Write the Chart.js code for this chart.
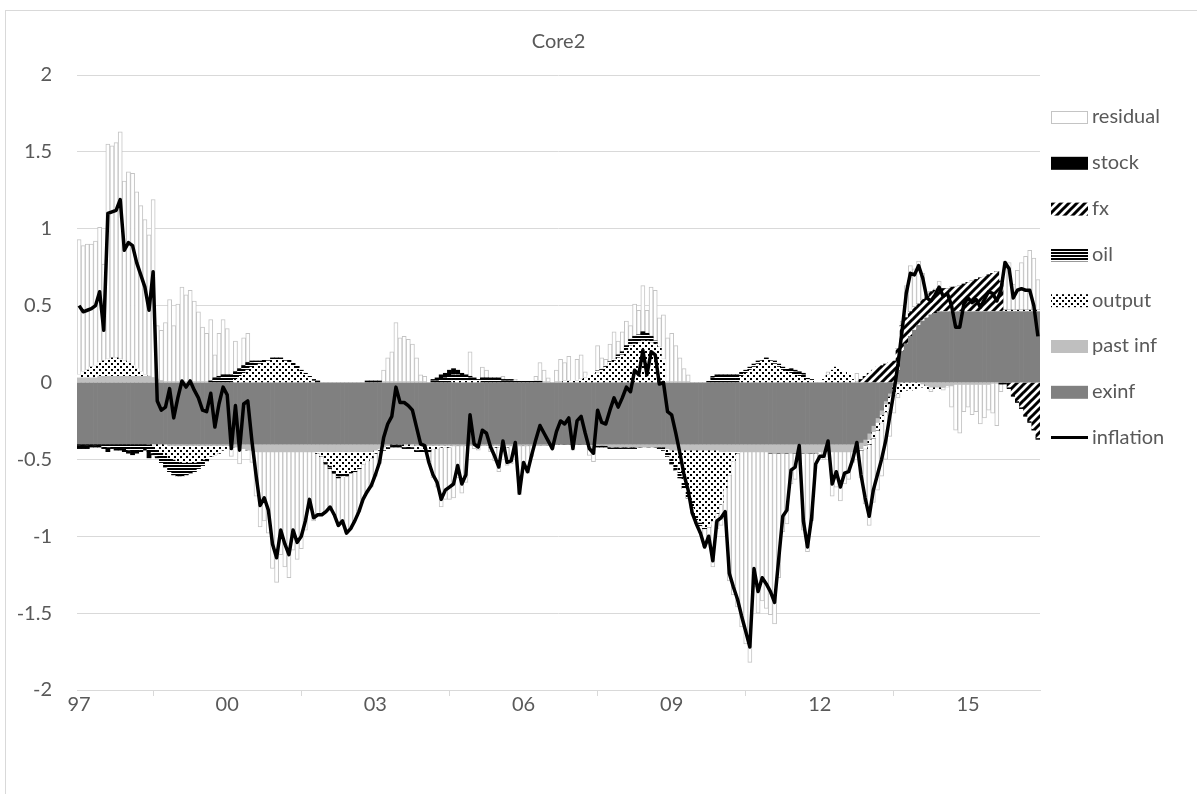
<!DOCTYPE html>
<html>
<head>
<meta charset="utf-8">
<script src="https://cdn.jsdelivr.net/npm/chart.js@4.4.1/dist/chart.umd.min.js"></script>
<style>
  html, body { margin: 0; padding: 0; background: #fff; }
  #wrap { position: relative; width: 1197px; height: 794px; overflow: hidden; }
  #frame { position: absolute; left: 5px; top: 10px; width: 1400px; height: 1000px; border: 1px solid #d9d9d9; box-sizing: border-box; }
  #c { position: absolute; left: 0; top: 0; }
</style>
</head>
<body>
<div id="wrap"><div id="frame"></div><canvas id="c" width="1197" height="794"></canvas></div>
<script>
const titleText = 'Core2';
const years = ['97','98','99','00','01','02','03','04','05','06','07','08','09','10','11','12','13','14','15','16'];
const tickLabels = ['97','00','03','06','09','12','15'];
const N = 234;
const categories = [];
for (const y of years) { for (let m = 1; m <= 12 && categories.length < N; m++) categories.push(y + '-' + (m < 10 ? '0' + m : m)); }

const inflation = [
 0.50, 0.46, 0.47, 0.48, 0.50, 0.59, 0.34, 1.10, 1.11, 1.12, 1.19, 0.86,
 0.91, 0.89, 0.78, 0.70, 0.62, 0.47, 0.72, -0.12, -0.18, -0.16, -0.04, -0.23,
 -0.10, 0.01, -0.03, 0.01, -0.05, -0.10, -0.18, -0.19, -0.07, -0.29, -0.14, -0.03,
 -0.08, -0.43, -0.15, -0.44, -0.14, -0.12, -0.38, -0.60, -0.80, -0.75, -0.83, -1.05,
 -1.14, -0.96, -1.05, -1.12, -0.96, -1.04, -1.00, -0.90, -0.76, -0.88, -0.86, -0.86,
 -0.84, -0.81, -0.86, -0.93, -0.90, -0.98, -0.95, -0.90, -0.84, -0.76, -0.71, -0.67,
 -0.60, -0.52, -0.36, -0.27, -0.22, -0.03, -0.13, -0.13, -0.15, -0.18, -0.29, -0.40,
 -0.41, -0.52, -0.60, -0.65, -0.76, -0.70, -0.68, -0.66, -0.54, -0.66, -0.60, -0.21,
 -0.40, -0.42, -0.31, -0.33, -0.42, -0.48, -0.55, -0.38, -0.52, -0.51, -0.39, -0.72,
 -0.52, -0.58, -0.47, -0.37, -0.28, -0.33, -0.38, -0.43, -0.32, -0.25, -0.27, -0.23,
 -0.43, -0.25, -0.22, -0.33, -0.43, -0.46, -0.18, -0.26, -0.27, -0.18, -0.10, -0.16,
 -0.10, -0.03, -0.06, 0.08, 0.05, 0.21, 0.05, 0.20, 0.18, -0.01, 0.00, -0.19,
 -0.21, -0.33, -0.46, -0.60, -0.70, -0.85, -0.92, -0.98, -1.07, -1.00, -1.16, -0.90,
 -0.88, -0.84, -1.24, -1.33, -1.41, -1.52, -1.62, -1.72, -1.21, -1.36, -1.27, -1.31,
 -1.36, -1.43, -1.15, -0.87, -0.83, -0.57, -0.55, -0.41, -0.90, -1.07, -0.88, -0.53,
 -0.48, -0.48, -0.38, -0.66, -0.58, -0.68, -0.59, -0.58, -0.50, -0.39, -0.60, -0.75,
 -0.87, -0.70, -0.60, -0.50, -0.38, -0.22, -0.06, 0.12, 0.34, 0.58, 0.71, 0.70,
 0.76, 0.68, 0.55, 0.53, 0.57, 0.62, 0.56, 0.58, 0.50, 0.36, 0.36, 0.51,
 0.55, 0.52, 0.54, 0.49, 0.54, 0.59, 0.58, 0.53, 0.60, 0.78, 0.74, 0.55,
 0.60, 0.61, 0.60, 0.60, 0.50, 0.30
];

const exinf = [
 -0.40, -0.40, -0.40, -0.40, -0.40, -0.40, -0.40, -0.40, -0.40, -0.40, -0.40, -0.40,
 -0.40, -0.40, -0.40, -0.40, -0.40, -0.40, -0.40, -0.40, -0.40, -0.40, -0.40, -0.40,
 -0.40, -0.40, -0.40, -0.40, -0.40, -0.40, -0.40, -0.40, -0.40, -0.40, -0.40, -0.40,
 -0.40, -0.40, -0.40, -0.40, -0.40, -0.40, -0.40, -0.40, -0.40, -0.40, -0.40, -0.40,
 -0.40, -0.40, -0.40, -0.40, -0.40, -0.40, -0.40, -0.40, -0.40, -0.40, -0.40, -0.40,
 -0.40, -0.40, -0.40, -0.40, -0.40, -0.40, -0.40, -0.40, -0.40, -0.40, -0.40, -0.40,
 -0.40, -0.40, -0.40, -0.40, -0.40, -0.40, -0.40, -0.40, -0.40, -0.40, -0.40, -0.40,
 -0.40, -0.40, -0.40, -0.40, -0.40, -0.40, -0.40, -0.40, -0.40, -0.40, -0.40, -0.40,
 -0.40, -0.40, -0.40, -0.40, -0.40, -0.40, -0.40, -0.40, -0.40, -0.40, -0.40, -0.40,
 -0.40, -0.40, -0.40, -0.40, -0.40, -0.40, -0.40, -0.40, -0.40, -0.40, -0.40, -0.40,
 -0.40, -0.40, -0.40, -0.40, -0.40, -0.40, -0.40, -0.40, -0.40, -0.40, -0.40, -0.40,
 -0.40, -0.40, -0.40, -0.40, -0.40, -0.40, -0.40, -0.40, -0.40, -0.40, -0.40, -0.40,
 -0.40, -0.40, -0.40, -0.40, -0.40, -0.40, -0.40, -0.40, -0.40, -0.40, -0.40, -0.40,
 -0.40, -0.40, -0.40, -0.40, -0.40, -0.40, -0.40, -0.40, -0.40, -0.40, -0.40, -0.40,
 -0.40, -0.40, -0.40, -0.40, -0.40, -0.40, -0.40, -0.40, -0.40, -0.40, -0.40, -0.40,
 -0.40, -0.40, -0.40, -0.40, -0.40, -0.40, -0.40, -0.40, -0.40, -0.40, -0.39, -0.37,
 -0.33, -0.28, -0.23, -0.18, -0.12, -0.07, -0.02, 0.07, 0.20, 0.25, 0.30, 0.34,
 0.37, 0.40, 0.42, 0.44, 0.45, 0.46, 0.46, 0.46, 0.46, 0.46, 0.46, 0.46,
 0.46, 0.46, 0.46, 0.46, 0.46, 0.46, 0.46, 0.46, 0.46, 0.46, 0.46, 0.46,
 0.46, 0.46, 0.46, 0.46, 0.46, 0.46
];

const pastInf = [
 0.03, 0.03, 0.03, 0.03, 0.03, 0.04, 0.04, 0.04, 0.04, 0.04, 0.04, 0.04,
 0.04, 0.04, 0.04, 0.04, 0.04, 0.04, 0.03, 0.02, 0.01, 0.00, -0.01, -0.01,
 -0.01, -0.01, -0.01, -0.01, -0.01, -0.01, -0.01, -0.01, -0.01, -0.01, -0.01, -0.01,
 -0.01, -0.01, -0.02, -0.02, -0.03, -0.04, -0.04, -0.05, -0.05, -0.05, -0.05, -0.05,
 -0.05, -0.05, -0.05, -0.05, -0.05, -0.05, -0.05, -0.05, -0.05, -0.05, -0.05, -0.05,
 -0.05, -0.05, -0.05, -0.05, -0.05, -0.05, -0.05, -0.05, -0.05, -0.05, -0.05, -0.05,
 -0.04, -0.03, -0.02, -0.01, 0.00, 0.00, 0.00, 0.00, 0.00, 0.00, -0.01, -0.01,
 -0.01, -0.01, -0.01, -0.01, -0.01, -0.01, -0.01, -0.01, -0.01, -0.01, -0.01, -0.01,
 -0.01, -0.01, -0.01, -0.01, -0.01, -0.01, -0.01, -0.01, -0.01, -0.01, -0.01, -0.01,
 -0.01, -0.01, -0.01, -0.01, -0.01, -0.01, -0.01, -0.01, 0.00, 0.00, 0.00, 0.00,
 0.00, 0.00, 0.00, 0.00, 0.00, 0.00, -0.01, -0.01, -0.01, -0.02, -0.02, -0.02,
 -0.02, -0.02, -0.02, -0.02, -0.02, -0.02, -0.02, -0.02, -0.02, -0.02, -0.02, -0.03,
 -0.04, -0.04, -0.04, -0.04, -0.04, -0.04, -0.04, -0.04, -0.04, -0.04, -0.04, -0.04,
 -0.05, -0.05, -0.05, -0.05, -0.05, -0.05, -0.05, -0.05, -0.05, -0.05, -0.05, -0.05,
 -0.06, -0.06, -0.06, -0.06, -0.06, -0.06, -0.06, -0.06, -0.06, -0.06, -0.06, -0.06,
 -0.05, -0.05, -0.05, -0.05, -0.05, -0.05, -0.05, -0.05, -0.05, -0.05, -0.04, -0.04,
 -0.04, -0.04, -0.03, -0.03, -0.02, -0.02, -0.01, -0.01, 0.00, 0.00, 0.00, 0.00,
 0.00, -0.01, -0.02, -0.03, -0.03, -0.03, -0.03, -0.02, -0.02, -0.01, -0.01, -0.01,
 -0.01, -0.01, -0.01, -0.01, -0.01, -0.01, 0.00, 0.00, 0.00, 0.00, 0.00, 0.00,
 0.00, 0.00, 0.00, 0.00, 0.00, 0.00
];

const output = [
 0.02, 0.04, 0.05, 0.07, 0.08, 0.09, 0.10, 0.11, 0.12, 0.12, 0.11, 0.10,
 0.09, 0.07, 0.05, 0.03, 0.01, 0.00, -0.01, -0.03, -0.05, -0.07, -0.08, -0.09,
 -0.10, -0.11, -0.11, -0.11, -0.11, -0.10, -0.09, -0.08, -0.07, -0.06, -0.05, -0.03,
 -0.02, 0.00, 0.02, 0.04, 0.06, 0.08, 0.10, 0.11, 0.12, 0.13, 0.14, 0.15,
 0.15, 0.15, 0.14, 0.13, 0.11, 0.09, 0.07, 0.05, 0.03, 0.01, -0.01, -0.03,
 -0.06, -0.09, -0.12, -0.14, -0.14, -0.14, -0.13, -0.12, -0.10, -0.08, -0.06, -0.04,
 -0.02, -0.01, -0.01, 0.00, 0.00, 0.00, 0.00, -0.01, -0.01, -0.01, -0.02, -0.02,
 -0.02, -0.02, -0.02, -0.02, -0.01, -0.01, -0.01, 0.01, 0.01, 0.01, 0.01, 0.01,
 0.01, 0.01, 0.00, 0.00, -0.01, -0.01, -0.01, -0.01, -0.01, 0.00, 0.00, 0.00,
 0.00, 0.00, 0.00, 0.00, 0.00, 0.00, 0.00, 0.00, 0.00, 0.00, 0.01, 0.01,
 0.01, 0.01, 0.02, 0.03, 0.045, 0.055, 0.065, 0.08, 0.10, 0.125, 0.14, 0.16,
 0.18, 0.21, 0.24, 0.25, 0.26, 0.27, 0.27, 0.26, 0.25, 0.23, 0.15, -0.02,
 -0.05, -0.09, -0.14, -0.21, -0.27, -0.33, -0.42, -0.47, -0.50, -0.50, -0.46, -0.41,
 -0.34, -0.24, -0.15, -0.06, -0.01, 0.04, 0.06, 0.08, 0.10, 0.12, 0.14, 0.15,
 0.14, 0.12, 0.10, 0.08, 0.07, 0.06, 0.05, 0.04, 0.03, 0.02, 0.01, 0.00,
 0.00, 0.02, 0.05, 0.08, 0.10, 0.09, 0.07, 0.05, 0.02, 0.00, -0.01, -0.02,
 -0.03, -0.04, -0.05, -0.05, -0.05, -0.05, -0.05, -0.06, -0.06, -0.05, -0.05, -0.04,
 -0.03, -0.02, -0.02, -0.01, -0.01, -0.01, 0.00, 0.00, 0.00, 0.00, 0.00, 0.00,
 0.00, 0.00, 0.00, 0.00, 0.00, 0.00, 0.00, 0.00, 0.00, 0.01, 0.01, 0.01,
 0.01, 0.01, 0.01, 0.01, 0.01, 0.01
];

const oil = [
 -0.01, -0.01, -0.01, -0.01, -0.01, -0.01, -0.02, -0.02, -0.02, -0.03, -0.03, -0.03,
 -0.04, -0.05, -0.05, -0.04, -0.03, -0.05, -0.05, -0.05, -0.07, -0.08, -0.09, -0.10,
 -0.10, -0.09, -0.08, -0.07, -0.06, -0.05, -0.04, -0.02, 0.00, 0.02, 0.03, 0.04,
 0.04, 0.04, 0.04, 0.04, 0.04, 0.04, 0.03, 0.03, 0.02, 0.02, 0.01, 0.01,
 0.01, 0.01, 0.01, 0.02, 0.02, 0.02, 0.01, 0.01, 0.01, 0.00, 0.00, 0.00,
 -0.01, -0.01, -0.01, -0.02, -0.02, -0.02, -0.01, -0.01, -0.01, 0.00, 0.00, 0.00,
 0.00, 0.00, -0.01, -0.01, -0.01, -0.01, -0.01, -0.01, -0.01, -0.01, -0.01, -0.01,
 -0.01, -0.01, 0.01, 0.01, 0.02, 0.03, 0.04, 0.04, 0.04, 0.03, 0.03, 0.02,
 0.01, 0.01, 0.02, 0.02, 0.02, 0.02, 0.02, 0.01, 0.01, 0.01, 0.01, 0.01,
 0.01, 0.01, 0.01, 0.01, 0.01, 0.00, 0.00, 0.00, 0.00, 0.00, 0.00, 0.00,
 0.00, 0.00, 0.00, 0.00, 0.00, 0.00, 0.01, 0.01, 0.01, 0.01, 0.01, 0.02,
 0.02, 0.03, 0.04, 0.05, 0.05, 0.05, 0.04, 0.03, 0.02, -0.01, -0.02, -0.03,
 -0.04, -0.04, -0.04, -0.04, -0.04, -0.04, -0.03, -0.02, -0.01, 0.01, 0.03, 0.04,
 0.04, 0.04, 0.04, 0.04, 0.04, 0.03, 0.02, 0.02, 0.02, 0.02, 0.01, 0.01,
 0.01, 0.02, 0.02, 0.02, 0.02, 0.02, 0.02, 0.02, 0.02, 0.01, 0.01, 0.00,
 0.00, 0.00, 0.00, 0.00, 0.00, 0.00, 0.00, 0.00, 0.00, 0.00, 0.00, 0.00,
 0.00, 0.00, 0.00, 0.00, 0.00, 0.00, 0.00, 0.00, 0.00, 0.00, 0.00, 0.00,
 0.00, 0.00, 0.00, 0.00, 0.00, 0.00, 0.00, 0.00, 0.00, 0.00, 0.00, 0.00,
 0.00, 0.00, 0.00, 0.00, 0.00, 0.00, 0.00, 0.00, 0.00, 0.00, 0.00, 0.00,
 0.00, 0.00, 0.00, 0.00, 0.00, 0.00
];

const fx = [
 0,0,0,0,0,0,0,0,0,0,0,0,
 0,0,0,0,0,0,0,0,0,0,0,0,
 0,0,0,0,0,0,0,0,0,0,0,0,
 0,0,0,0,0,0,0,0,0,0,0,0,
 0,0,0,0,0,0,0,0,0,0,0,0,
 0,0,0,0,0,0,0,0,0,0,0,0,
 0,0,0,0,0,0,0,0,0,0,0,0,
 0,0,0,0,0,0,0,0,0,0,0,0,
 0,0,0,0,0,0,0,0,0,0,0,0,
 0,0,0,0,0,0,0,0,0,0,0,0,
 0,0,0,0,0,0,0,0,0,0,0,0,
 0,0,0,0,0,0,0,0,0,0,0,0,
 0,0,0,0,0,0,0,0,0,0,0,0,
 0,0,0,0,0,0,0,0,0,0,0,0,
 0,0,0,0,0,0,0,0,0,0,0,0,
 0,0,0,0,0,0,0,0,0,0,0.02,0.04,
 0.06, 0.08, 0.10, 0.11, 0.12, 0.13, 0.14, 0.15, 0.17, 0.17, 0.16, 0.15,
 0.14, 0.14, 0.14, 0.15, 0.15, 0.15, 0.15, 0.15, 0.16, 0.16, 0.17, 0.18,
 0.19, 0.20, 0.21, 0.22, 0.23, 0.24, 0.25, 0.26, 0.20, 0.00, -0.03, -0.08,
 -0.12, -0.16, -0.21, -0.25, -0.30, -0.36
];

const stock = [
 -0.02, -0.02, -0.02, -0.01, -0.01, -0.01, -0.01, -0.03, -0.01, -0.01, -0.01, -0.02,
 -0.02, -0.02, -0.01, -0.01, -0.01, -0.04, -0.01, -0.01, 0.00, 0.00, 0.00, 0.00,
 0.00, 0.00, 0.00, 0.00, 0.00, 0.00, 0.00, 0.00, 0.01, 0.01, 0.01, 0.01,
 0.01, 0.01, 0.01, 0.01, 0.01, 0.01, 0.01, 0.00, 0.00, 0.00, 0.00, 0.00,
 0.00, 0.00, 0.00, 0.00, 0.00, 0.00, 0.00, 0.00, 0.00, 0.01, 0.01, 0.00,
 -0.01, -0.01, -0.01, -0.01, 0.00, 0.00, 0.00, 0.00, 0.00, 0.00, 0.01, 0.01,
 0.01, 0.01, 0.00, -0.01, -0.01, -0.01, -0.01, -0.01, -0.01, -0.01, -0.01, -0.01,
 -0.01, -0.01, 0.01, 0.02, 0.03, 0.03, 0.04, 0.04, 0.03, 0.02, 0.01, 0.01,
 0.01, 0.00, 0.01, 0.01, 0.01, 0.01, 0.01, 0.01, 0.01, 0.01, 0.00, 0.00,
 0.00, 0.00, 0.00, 0.00, 0.00, 0.00, 0.00, 0.00, 0.00, 0.00, 0.00, 0.00,
 0.00, 0.00, 0.00, 0.00, 0.00, 0.00, -0.01, -0.01, -0.01, -0.01, -0.01, -0.01,
 -0.01, -0.01, -0.01, -0.01, 0.00, 0.01, 0.01, 0.01, 0.00, 0.00, 0.00, 0.00,
 0.00, 0.00, 0.00, 0.00, 0.00, 0.00, 0.00, 0.00, 0.00, 0.00, 0.01, 0.01,
 0.01, 0.01, 0.01, 0.01, 0.01, 0.00, 0.00, 0.00, 0.00, 0.00, 0.00, 0.00,
 0.00, 0.00, 0.00, 0.00, 0.00, 0.01, 0.01, 0.01, 0.01, 0.00, 0.00, 0.00,
 0.00, 0.00, 0.00, 0.00, 0.00, 0.00, 0.00, 0.00, 0.00, 0.00, 0.00, 0.00,
 0.00, 0.00, 0.00, 0.00, 0.00, 0.00, 0.00, 0.00, 0.00, 0.00, 0.00, 0.00,
 0.00, 0.00, 0.00, 0.00, 0.00, 0.00, 0.00, 0.00, 0.00, 0.00, 0.00, 0.00,
 0.00, 0.00, 0.00, 0.00, 0.00, 0.00, 0.00, 0.00, -0.01, -0.01, -0.01, -0.01,
 -0.01, -0.01, -0.01, -0.01, -0.01, -0.01
];

const residual = [
 0.88, 0.82, 0.82, 0.80, 0.81, 0.88, 0.63, 1.40, 1.38, 1.40, 1.48, 1.17,
 1.24, 1.25, 1.15, 1.08, 1.01, 0.92, 1.16, 0.35, 0.33, 0.39, 0.54, 0.37,
 0.51, 0.62, 0.57, 0.60, 0.53, 0.46, 0.36, 0.32, 0.40, 0.15, 0.28, 0.36,
 0.30, -0.07, 0.20, -0.11, 0.18, 0.19, -0.08, -0.29, -0.49, -0.45, -0.53, -0.76,
 -0.85, -0.67, -0.75, -0.82, -0.64, -0.70, -0.63, -0.51, -0.35, -0.45, -0.41, -0.38,
 -0.31, -0.25, -0.27, -0.31, -0.29, -0.37, -0.36, -0.32, -0.28, -0.23, -0.21, -0.19,
 -0.15, -0.09, 0.08, 0.16, 0.20, 0.39, 0.29, 0.30, 0.28, 0.25, 0.16, 0.05,
 0.04, -0.07, -0.19, -0.25, -0.39, -0.34, -0.34, -0.34, -0.21, -0.31, -0.24, 0.16,
 -0.02, -0.03, 0.07, 0.05, -0.03, -0.09, -0.16, 0.02, -0.12, -0.12, 0.01, -0.32,
 -0.12, -0.18, -0.07, 0.03, 0.12, 0.08, 0.03, -0.02, 0.08, 0.15, 0.12, 0.16,
 -0.04, 0.14, 0.16, 0.04, -0.075, -0.115, 0.165, 0.07, 0.04, 0.115, 0.18, 0.09,
 0.13, 0.16, 0.09, 0.21, 0.16, 0.30, 0.15, 0.32, 0.33, 0.19, 0.29, 0.29,
 0.32, 0.24, 0.16, 0.09, 0.05, -0.04, -0.03, -0.05, -0.12, -0.07, -0.30, -0.10,
 -0.14, -0.20, -0.69, -0.87, -1.00, -1.14, -1.25, -1.37, -0.88, -1.05, -0.97, -1.02,
 -1.05, -1.11, -0.81, -0.51, -0.46, -0.20, -0.17, -0.02, -0.50, -0.64, -0.44, -0.07,
 -0.03, -0.05, 0.02, -0.29, -0.23, -0.32, -0.21, -0.18, -0.07, 0.06, -0.18, -0.36,
 -0.53, -0.42, -0.39, -0.35, -0.31, -0.21, -0.12, -0.03, 0.03, 0.21, 0.30, 0.25,
 0.28, 0.17, 0.03, -0.02, 0.01, 0.05, -0.02, -0.01, -0.14, -0.30, -0.32, -0.18,
 -0.15, -0.20, -0.18, -0.26, -0.22, -0.17, -0.20, -0.28, -0.05, 0.32, 0.31, 0.17,
 0.26, 0.31, 0.35, 0.39, 0.34, 0.20
];

const checks = {inflation, exinf, pastInf, output, oil, fx, stock, residual};
for (const k in checks) if (checks[k].length !== N) throw new Error(k + ' has ' + checks[k].length + ' values');

const canvas = document.getElementById('c');
const ctx = canvas.getContext('2d');

function tile(w, h, draw) {
  const t = document.createElement('canvas');
  t.width = w; t.height = h;
  const g = t.getContext('2d');
  g.fillStyle = '#ffffff'; g.fillRect(0, 0, w, h);
  g.fillStyle = '#000000'; g.strokeStyle = '#000000';
  draw(g);
  return ctx.createPattern(t, 'repeat');
}
const dotPattern = tile(6, 6, g => { g.fillRect(0, 0, 2, 2); g.fillRect(3, 3, 2, 2); });
const oilPattern = tile(4, 3, g => { g.fillRect(0, 0, 4, 2); });
const fxPattern = tile(8, 8, g => {
  g.lineWidth = 3; g.lineCap = 'square';
  g.beginPath();
  g.moveTo(-2, 10); g.lineTo(10, -2);
  g.moveTo(-2, 2); g.lineTo(2, -2);
  g.moveTo(6, 10); g.lineTo(10, 6);
  g.stroke();
});

const FONT = 'Lato, "Open Sans", sans-serif';
const TXT = '#595959';

const barBase = { type: 'bar', stack: 'parts', order: 1, barPercentage: 1.0, categoryPercentage: 1.0, borderWidth: 0 };
const datasets = [
  Object.assign({}, barBase, { label: 'exinf', data: exinf, backgroundColor: '#808080' }),
  Object.assign({}, barBase, { label: 'past inf', data: pastInf, backgroundColor: '#bfbfbf' }),
  Object.assign({}, barBase, { label: 'output', data: output, backgroundColor: dotPattern }),
  Object.assign({}, barBase, { label: 'oil', data: oil, backgroundColor: oilPattern }),
  Object.assign({}, barBase, { label: 'fx', data: fx, backgroundColor: fxPattern }),
  Object.assign({}, barBase, { label: 'stock', data: stock, backgroundColor: '#000000' }),
  Object.assign({}, barBase, { label: 'residual', data: residual, backgroundColor: '#ffffff', borderColor: '#c4c4c4', borderWidth: 1, borderSkipped: false }),
  { type: 'line', label: 'inflation', data: inflation, stack: 'line', order: 0, borderColor: '#000000', borderWidth: 3.5, pointRadius: 0, tension: 0, borderJoinStyle: 'round', fill: false }
];

const legendOrder = ['residual', 'stock', 'fx', 'oil', 'output', 'past inf', 'exinf', 'inflation'];

const overlay = {
  id: 'overlay',
  afterDraw(chart) {
    const c = chart.ctx;
    const area = chart.chartArea;
    c.save();
    c.fillStyle = TXT;
    c.font = '20px ' + FONT;
    c.textAlign = 'center';
    c.textBaseline = 'middle';
    c.fillText(titleText, (area.left + area.right) / 2, 42);
    c.textAlign = 'left';
    legendOrder.forEach((name, k) => {
      const ds = chart.data.datasets.find(d => d.label === name);
      const yc = 117 + 45.8 * k;
      const x0 = 1051, w = 37, h = 13;
      if (ds.type === 'line') {
        c.strokeStyle = '#000'; c.lineWidth = 3;
        c.beginPath(); c.moveTo(x0, yc); c.lineTo(x0 + w, yc); c.stroke();
      } else {
        c.fillStyle = ds.backgroundColor;
        c.fillRect(x0, yc - 6, w, h);
        if (ds.borderWidth) { c.strokeStyle = ds.borderColor; c.lineWidth = 1; c.strokeRect(x0 + 0.5, yc - 5.5, w - 1, h - 1); }
      }
      c.fillStyle = TXT;
      c.fillText(name, 1092, yc);
    });
    c.restore();
  }
};

new Chart(ctx, {
  data: { labels: categories, datasets },
  plugins: [overlay],
  options: {
    responsive: false,
    animation: false,
    layout: { padding: { left: 0, right: 157, top: 75, bottom: 0 } },
    plugins: { legend: { display: false }, title: { display: false }, tooltip: { enabled: false } },
    scales: {
      x: {
        stacked: true,
        offset: true,
        grid: { display: true, drawOnChartArea: false, drawTicks: true, tickLength: 6, color: '#d9d9d9', offset: true },
        border: { display: true, color: '#d9d9d9' },
        ticks: {
          autoSkip: false, maxRotation: 0, minRotation: 0, padding: -3,
          color: TXT, font: { family: FONT, size: 20 },
          callback: function (v, i) {
            const c = categories[i];
            const y = c.slice(0, 2);
            return (c.slice(3) === '01' && tickLabels.includes(y)) ? y : null;
          }
        },
        afterFit(scale) { scale.height = 794 - 690; }
      },
      y: {
        stacked: true,
        min: -2, max: 2,
        grid: { color: '#d9d9d9', drawTicks: false },
        border: { display: false },
        ticks: { stepSize: 0.5, padding: 25, color: TXT, font: { family: FONT, size: 20 },
          callback: v => String(Math.round(v * 10) / 10) },
        afterFit(scale) { scale.width = 77; }
      }
    }
  }
});
</script>
</body>
</html>
